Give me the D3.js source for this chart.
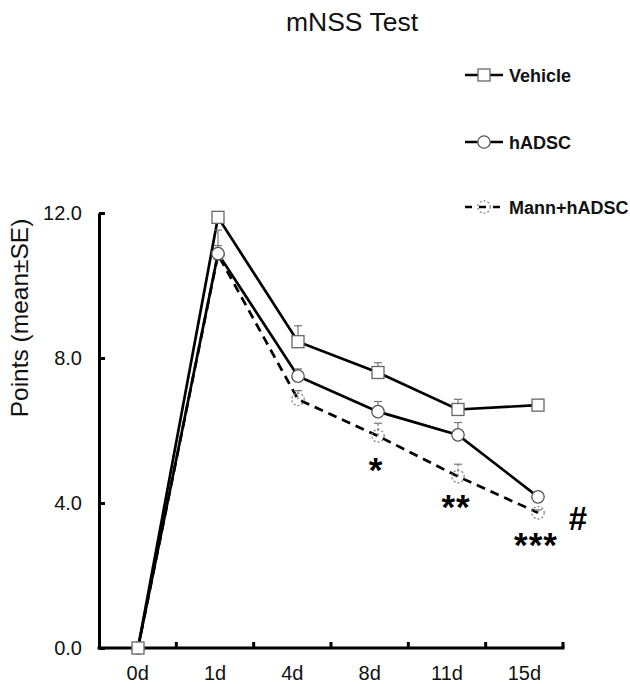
<!DOCTYPE html>
<html>
<head>
<meta charset="utf-8">
<script src="https://cdn.jsdelivr.net/npm/d3@7"></script>
<style>
  html, body { margin: 0; padding: 0; background: #fff; }
  svg { display: block; font-family: "Liberation Sans", Arial, sans-serif; }
</style>
</head>
<body>
<svg id="chart" width="630" height="684"></svg>
<script>
// ---- data ----
const categories = ["0d", "1d", "4d", "8d", "11d", "15d"];
const vehicleMean = [0, 11.88, 8.45, 7.60, 6.58, 6.70];
const vehicleSE   = [0.05, 0.1, 0.44, 0.27, 0.28, 0.08];
const hadscMean   = [0, 10.88, 7.50, 6.52, 5.88, 4.17];
const hadscSE     = [0.05, 0.65, 0.20, 0.28, 0.34, 0.08];
const mannMean    = [0, 10.85, 6.86, 5.85, 4.73, 3.73];
const mannSE      = [0.05, 0.25, 0.24, 0.35, 0.34, 0.08];
const seriesNames = ["Vehicle", "hADSC", "Mann+hADSC"];
const yTicks = [0, 4, 8, 12];
const annotations = [
  { cat: "8d", text: "*", value: 4.58 },
  { cat: "11d", text: "**", value: 3.56 },
  { cat: "15d", text: "***", value: 2.51 }
];
const hashNote = { text: "#", value: 3.26 };
const titleText = "mNSS Test";
const yLabel = "Points (mean\u00B1SE)";

// ---- setup ----
const svg = d3.select("#chart");
const axisLeftX = 99, axisRightX = 563, yTop = 213, yBottom = 648;

const y = d3.scaleLinear().domain([0, 12]).range([yBottom, yTop]);
const xBand = d3.scaleBand().domain(categories).range([axisLeftX, axisRightX]).padding(0);
const xPt = d3.scalePoint().domain(categories).range([138, 538]);

const series = [
  { name: seriesNames[0], mean: vehicleMean, se: vehicleSE, marker: "square", dashed: false },
  { name: seriesNames[1], mean: hadscMean, se: hadscSE, marker: "circle", dashed: false },
  { name: seriesNames[2], mean: mannMean, se: mannSE, marker: "circle", dashed: true }
];

// title
svg.append("text").attr("x", 352).attr("y", 31).attr("text-anchor", "middle")
  .attr("font-size", 26.5).attr("fill", "#111").text(titleText);

// y axis
const yAxis = d3.axisLeft(y).tickValues(yTicks).tickFormat(d3.format(".1f"))
  .tickSizeInner(-6).tickSizeOuter(0).tickPadding(17);
const gy = svg.append("g").attr("transform", `translate(${axisLeftX},0)`).call(yAxis);
gy.select(".domain").attr("stroke", "#000").attr("stroke-width", 3);
gy.selectAll(".tick line").attr("stroke", "#000").attr("stroke-width", 3);
gy.selectAll(".tick text").attr("font-size", 20).attr("fill", "#111")
  .attr("font-family", "Liberation Sans, Arial, sans-serif");

// x axis (labels at band centres, ticks at band boundaries)
const xAxis = d3.axisBottom(xBand).tickSize(0).tickPadding(18);
const gx = svg.append("g").attr("transform", `translate(0,${yBottom})`).call(xAxis);
gx.select(".domain").remove();
gx.selectAll(".tick text").attr("font-size", 20).attr("fill", "#111")
  .attr("font-family", "Liberation Sans, Arial, sans-serif");
svg.append("line").attr("x1", axisLeftX - 1.5).attr("x2", axisRightX + 1.5)
  .attr("y1", yBottom).attr("y2", yBottom).attr("stroke", "#000").attr("stroke-width", 3);
const boundaries = categories.map(c => xBand(c) + xBand.bandwidth());
svg.selectAll(".xtick").data(boundaries).join("line").attr("class", "xtick")
  .attr("x1", d => d).attr("x2", d => d).attr("y1", yBottom).attr("y2", yBottom - 6)
  .attr("stroke", "#000").attr("stroke-width", 3);

// y label
svg.append("text").attr("transform", `translate(28,318) rotate(-90)`)
  .attr("text-anchor", "middle").attr("font-size", 24.5).attr("fill", "#111").text(yLabel);

// lines
const line = d3.line().x(d => xPt(d.c)).y(d => y(d.v));
series.forEach(s => {
  const pts = categories.map((c, i) => ({ c, v: s.mean[i] }));
  svg.append("path").datum(pts).attr("d", line).attr("fill", "none")
    .attr("stroke", "#000").attr("stroke-width", 2.7)
    .attr("stroke-dasharray", s.dashed ? "9,6" : null);
});

// error bars + markers
function drawMarker(g, type, dashed, cx, cy) {
  if (type === "square") {
    g.append("rect").attr("x", cx - 6).attr("y", cy - 6).attr("width", 12).attr("height", 12)
      .attr("fill", "#fff").attr("stroke", "#666").attr("stroke-width", 1.3);
  } else {
    g.append("circle").attr("cx", cx).attr("cy", cy).attr("r", 6.2)
      .attr("fill", dashed ? "none" : "#fff").attr("stroke", dashed ? "#888" : "#555")
      .attr("stroke-width", 1.3).attr("stroke-dasharray", dashed ? "2,2" : null);
  }
}
series.slice().reverse().forEach(s => {
  const g = svg.append("g");
  categories.forEach((c, i) => {
    const cx = xPt(c), cy = y(s.mean[i]), top = y(s.mean[i] + s.se[i]);
    g.append("line").attr("x1", cx).attr("x2", cx).attr("y1", cy).attr("y2", top)
      .attr("stroke", "#777").attr("stroke-width", 1.2).attr("stroke-dasharray", s.dashed ? "3,2" : null);
    g.append("line").attr("x1", cx - 4).attr("x2", cx + 4).attr("y1", top).attr("y2", top)
      .attr("stroke", "#777").attr("stroke-width", 1.2);
  });
  categories.forEach((c, i) => drawMarker(g, s.marker, s.dashed, xPt(c), y(s.mean[i])));
});

// annotations
annotations.forEach(a => {
  svg.append("text").attr("x", xPt(a.cat) - 2).attr("y", y(a.value))
    .attr("text-anchor", "middle").attr("font-size", 35).attr("font-weight", "bold")
    .attr("letter-spacing", 1).attr("fill", "#000").text(a.text);
});
svg.append("text").attr("x", 578).attr("y", y(hashNote.value))
  .attr("text-anchor", "middle").attr("font-size", 33).attr("font-weight", "bold")
  .attr("fill", "#000").text(hashNote.text);

// legend
const legY = [75, 142, 207];
series.forEach((s, i) => {
  const g = svg.append("g");
  g.append("line").attr("x1", 465).attr("x2", 503).attr("y1", legY[i]).attr("y2", legY[i])
    .attr("stroke", "#000").attr("stroke-width", 2.6).attr("stroke-dasharray", s.dashed ? "7,7" : null);
  drawMarker(g, s.marker, s.dashed, 484, legY[i]);
  g.append("text").attr("x", 509).attr("y", legY[i] + 6.5).attr("font-size", 18)
    .attr("font-weight", "bold").attr("fill", "#111").text(s.name);
});
</script>
</body>
</html>
